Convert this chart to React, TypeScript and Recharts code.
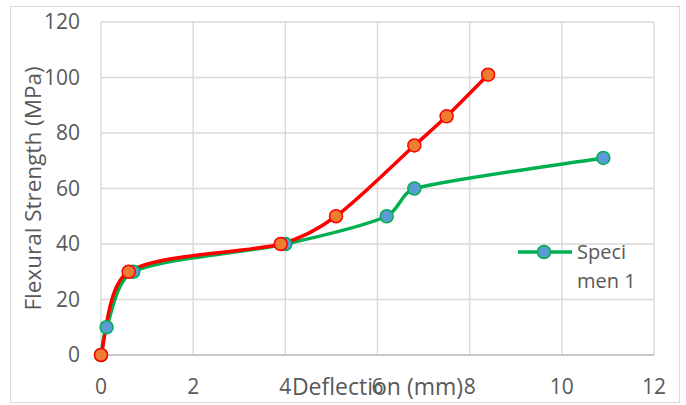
import React from "react";
import { CartesianGrid, Line, LineChart, XAxis, YAxis } from "recharts";

// deflection (mm) / flexural strength (MPa)
const specimen1Deflection = [0, 0.12, 0.7, 4.0, 6.2, 6.8, 10.9];
const specimen1Strength = [0, 10, 30, 40, 50, 60, 71];
const specimen2Deflection = [0, 0.6, 3.9, 5.1, 6.8, 7.5, 8.4];
const specimen2Strength = [0, 30, 40, 50, 75.5, 86, 101];

const xTicks = [0, 2, 4, 6, 8, 10, 12];
const yTicks = [0, 20, 40, 60, 80, 100, 120];

const GREEN = "#00B050";
const RED = "#FF0000";
const TEXT = "#595959";
const FONT = "'Open Sans', sans-serif";

const series1 = specimen1Deflection.map((x, i) => ({ x, y: specimen1Strength[i] }));
const series2 = specimen2Deflection.map((x, i) => ({ x, y: specimen2Strength[i] }));

const dist = (a: number[], b: number[]) => Math.hypot(b[0] - a[0], b[1] - a[1]);

// Excel-like smoothed line: bezier through every point, tangents weighted by chord length
function excelSmooth(context: any) {
  let pts: number[][] = [];
  return {
    areaStart() {},
    areaEnd() {},
    lineStart() {
      pts = [];
    },
    point(x: number, y: number) {
      pts.push([+x, +y]);
    },
    lineEnd() {
      if (!pts.length) return;
      context.moveTo(pts[0][0], pts[0][1]);
      for (let i = 0; i < pts.length - 1; i++) {
        const p0 = pts[i - 1] || pts[i];
        const p1 = pts[i];
        const p2 = pts[i + 1];
        const p3 = pts[i + 2] || pts[i + 1];
        const d12 = dist(p1, p2);
        const f1 = Math.min(1 / 6, d12 / (dist(p0, p1) + d12 || 1) / 3);
        const f2 = Math.min(1 / 6, d12 / (dist(p2, p3) + d12 || 1) / 3);
        context.bezierCurveTo(
          p1[0] + (p2[0] - p0[0]) * f1,
          p1[1] + (p2[1] - p0[1]) * f1,
          p2[0] - (p3[0] - p1[0]) * f2,
          p2[1] - (p3[1] - p1[1]) * f2,
          p2[0],
          p2[1]
        );
      }
    },
  };
}

function LegendBox() {
  return (
    <div
      style={{
        position: "absolute",
        left: 516,
        top: 240,
        display: "flex",
        alignItems: "flex-start",
        fontFamily: FONT,
      }}
    >
      <svg width={58} height={24}>
        <line x1={2} y1={12} x2={56} y2={12} stroke={GREEN} strokeWidth={3.5} />
        <circle cx={28} cy={12} r={6.5} fill="#5B9BD5" stroke={GREEN} strokeWidth={1.5} />
      </svg>
      <div style={{ fontSize: 20, color: TEXT, lineHeight: "29px", marginLeft: 3, marginTop: -3 }}>
        <div>Speci</div>
        <div>men 1</div>
      </div>
    </div>
  );
}

export default function App() {
  return (
    <div style={{ position: "absolute", left: 0, top: 0, width: 686, height: 405, background: "#fff" }}>
      {/* chart area border */}
      <div
        style={{
          position: "absolute",
          left: 10,
          top: 6,
          width: 668,
          height: 395,
          border: "1.5px solid #d9d9d9",
        }}
      />
      <LineChart
        width={686}
        height={405}
        margin={{ top: 22, right: 32, bottom: 20, left: 0 }}
        style={{ position: "absolute", left: 0, top: 0, fontFamily: FONT }}
      >
        <CartesianGrid stroke="#d9d9d9" strokeWidth={1.4} />
        <XAxis
          dataKey="x"
          type="number"
          domain={[0, 12]}
          ticks={xTicks}
          allowDuplicatedCategory={false}
          tickLine={false}
          axisLine={{ stroke: "#bfbfbf", strokeWidth: 1.5 }}
          tick={{ fill: TEXT, fontSize: 21 }}
          tickSize={0}
          tickMargin={24}
          label={{
            value: "Deflection (mm)",
            position: "bottom",
            offset: -6,
            style: { fill: TEXT, fontSize: 23 },
          }}
        />
        <YAxis
          type="number"
          domain={[0, 120]}
          ticks={yTicks}
          width={101}
          tickLine={false}
          axisLine={false}
          tick={{ fill: TEXT, fontSize: 21 }}
          tickSize={0}
          tickMargin={21}
          label={{
            value: "Flexural Strength (MPa)",
            angle: -90,
            position: "insideLeft",
            offset: 33,
            style: { fill: TEXT, fontSize: 22.5, textAnchor: "middle" },
          }}
        />
        <Line
          data={series1}
          dataKey="y"
          name="Specimen 1"
          type={excelSmooth as any}
          stroke={GREEN}
          strokeWidth={3.5}
          dot={{ r: 6.5, fill: "#5B9BD5", stroke: GREEN, strokeWidth: 1.5 }}
          activeDot={false}
          isAnimationActive={false}
        />
        <Line
          data={series2}
          dataKey="y"
          name="Specimen 2"
          type={excelSmooth as any}
          stroke={RED}
          strokeWidth={3.5}
          dot={{ r: 6.5, fill: "#ED7D31", stroke: RED, strokeWidth: 1.5 }}
          activeDot={false}
          isAnimationActive={false}
        />
      </LineChart>
      <LegendBox />
    </div>
  );
}
